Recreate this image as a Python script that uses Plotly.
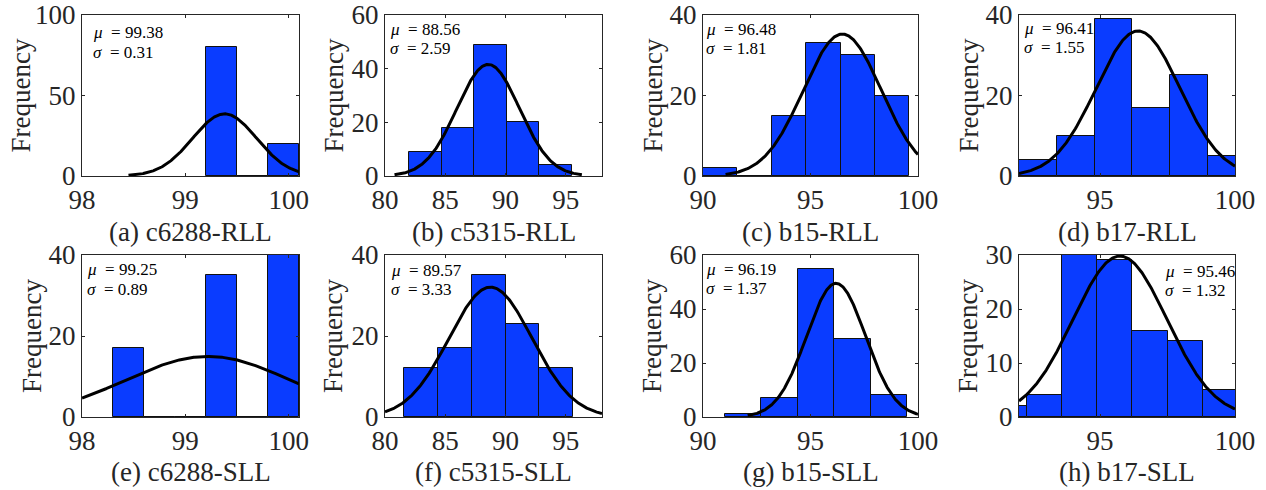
import numpy as np
import plotly.graph_objects as go

# ---------------- data ----------------
panel_labels = ["(a) c6288-RLL", "(b) c5315-RLL", "(c) b15-RLL", "(d) b17-RLL",
                "(e) c6288-SLL", "(f) c5315-SLL", "(g) b15-SLL", "(h) b17-SLL"]

# histogram bin edges and counts
edges_a = [99.2, 99.5, 99.8, 100.1]
counts_a = [80, 0, 20]
edges_b = [82.0, 84.7, 87.4, 90.1, 92.8, 95.5]
counts_b = [9, 18, 49, 20, 4]
edges_c = [90.0, 91.6, 93.2, 94.8, 96.4, 98.0, 99.6]
counts_c = [2, 0, 15, 33, 30, 20]
edges_d = [92.0, 93.4, 94.8, 96.2, 97.6, 99.0, 100.4]
counts_d = [4, 10, 39, 17, 25, 5]
edges_e = [98.3, 98.6, 98.9, 99.2, 99.5, 99.8, 100.1]
counts_e = [17, 0, 0, 35, 0, 48]
edges_f = [81.6, 84.4, 87.2, 90.0, 92.8, 95.6]
counts_f = [12, 17, 35, 23, 12]
edges_g = [91.0, 92.7, 94.4, 96.1, 97.8, 99.5]
counts_g = [1, 7, 55, 29, 8]
edges_h = [91.0, 92.3, 93.6, 94.9, 96.2, 97.5, 98.8, 100.1]
counts_h = [2, 4, 30, 29, 16, 14, 5]

# normal-fit curve parameters (as drawn)
fit_mu = [99.38, 88.56, 96.48, 96.41, 99.22, 88.75, 96.19, 95.74]
fit_sigma = [0.31, 2.59, 1.81, 1.55, 0.80, 3.45, 1.37, 1.74]

# annotated statistics
text_mu = ["99.38", "88.56", "96.48", "96.41", "99.25", "89.57", "96.19", "95.46"]
text_sigma = ["0.31", "2.59", "1.81", "1.55", "0.89", "3.33", "1.37", "1.32"]

# axes ranges / ticks
x_ranges = [[98, 100.1], [80, 98], [90, 100], [92, 100],
            [98, 100.1], [80, 98], [90, 100], [92, 100]]
x_ticks = [[98, 99, 100], [80, 85, 90, 95], [90, 95, 100], [95, 100],
           [98, 99, 100], [80, 85, 90, 95], [90, 95, 100], [95, 100]]
y_ranges = [[0, 100], [0, 60], [0, 40], [0, 40], [0, 40], [0, 40], [0, 60], [0, 30]]
y_ticks = [[0, 50, 100], [0, 20, 40, 60], [0, 20, 40], [0, 20, 40],
           [0, 20, 40], [0, 20, 40], [0, 20, 40, 60], [0, 10, 20, 30]]

all_edges = [edges_a, edges_b, edges_c, edges_d, edges_e, edges_f, edges_g, edges_h]
all_counts = [counts_a, counts_b, counts_c, counts_d, counts_e, counts_f, counts_g, counts_h]

# ---------------- layout geometry (pixels) ----------------
W, H = 1266, 490
cols_px = [(82, 299), (385, 602), (703, 918), (1019, 1235)]
rows_px = [(15, 176), (255, 417)]
ylabel_x_px = [20, 333, 652, 968, 32, 333, 652, 968]
xlabel_y_px = [232, 472]
stat_x = [98.09, 80.25, 90.05, 92.1, 98.03, 80.3, 90.05, 97.32]
stat_dy = [(17, 37), (14, 33), (14, 33), (13, 32), (14, 34), (15, 34), (14, 33), (16, 35)]

BAR = "#0a3cff"
AX = "#262626"
FONT = '"Liberation Serif", "Times New Roman", serif'

fig = go.Figure()
annotations = []
layout = {}

for i in range(8):
    r, c = divmod(i, 4)
    idx = "" if i == 0 else str(i + 1)
    xa, ya = "x" + idx, "y" + idx
    x0, x1 = cols_px[c]
    top, bot = rows_px[r]

    e = np.array(all_edges[i])
    cnt = np.array(all_counts[i])
    centers = (e[:-1] + e[1:]) / 2
    widths = e[1:] - e[:-1]
    fig.add_trace(go.Bar(x=centers, y=cnt, width=widths, xaxis=xa, yaxis=ya,
                         marker=dict(color=BAR, line=dict(color="#111111", width=1)),
                         showlegend=False, hoverinfo="skip"))

    bw = float(np.mean(widths))
    scale = cnt.sum() * bw
    mu, sd = fit_mu[i], fit_sigma[i]
    xs = np.linspace(max(mu - 3 * sd, x_ranges[i][0]), min(mu + 3 * sd, x_ranges[i][1]), 300)
    ys = scale / (sd * np.sqrt(2 * np.pi)) * np.exp(-0.5 * ((xs - mu) / sd) ** 2)
    fig.add_trace(go.Scatter(x=xs, y=ys, mode="lines", xaxis=xa, yaxis=ya,
                             line=dict(color="black", width=3), showlegend=False,
                             hoverinfo="skip"))

    common = dict(showline=True, linecolor=AX, linewidth=1, mirror="ticks",
                  ticks="inside", ticklen=3, tickwidth=1, tickcolor=AX,
                  showgrid=False, zeroline=False, automargin=False,
                  tickfont=dict(family=FONT, size=27, color=AX))
    layout["xaxis" + idx] = dict(common, domain=[x0 / W, x1 / W], anchor=ya,
                                 range=x_ranges[i], tickvals=x_ticks[i])
    layout["yaxis" + idx] = dict(common, domain=[1 - bot / H, 1 - top / H], anchor=xa,
                                 range=y_ranges[i], tickvals=y_ticks[i])

    # y label
    annotations.append(dict(text="Frequency", textangle=-90, xref="paper", yref="paper",
                            x=ylabel_x_px[i] / W, y=1 - (top + bot) / 2 / H,
                            xanchor="center", yanchor="middle", showarrow=False,
                            font=dict(family=FONT, size=27, color=AX)))
    # panel caption
    annotations.append(dict(text=panel_labels[i], xref="paper", yref="paper",
                            x=(x0 + x1) / 2 / W, y=1 - xlabel_y_px[r] / H,
                            xanchor="center", yanchor="middle", showarrow=False,
                            font=dict(family=FONT, size=27, color=AX)))
    # statistics
    hpx = bot - top
    for k, txt in enumerate(["<i>μ</i>&nbsp; = " + text_mu[i], "<i>σ</i>&nbsp; = " + text_sigma[i]]):
        annotations.append(dict(text=txt, xref=xa, yref=ya + " domain",
                                x=stat_x[i], y=1 - stat_dy[i][k] / hpx,
                                xanchor="left", yanchor="middle", showarrow=False,
                                font=dict(family=FONT, size=17, color="black")))

fig.update_layout(width=W, height=H, margin=dict(l=0, r=0, t=0, b=0),
                  paper_bgcolor="white", plot_bgcolor="white",
                  barmode="overlay", bargap=0, annotations=annotations, **layout)

fig.write_html("out.html", config={"displayModeBar": False},
               post_script="document.body.style.margin='0';document.body.style.overflow='hidden';")
